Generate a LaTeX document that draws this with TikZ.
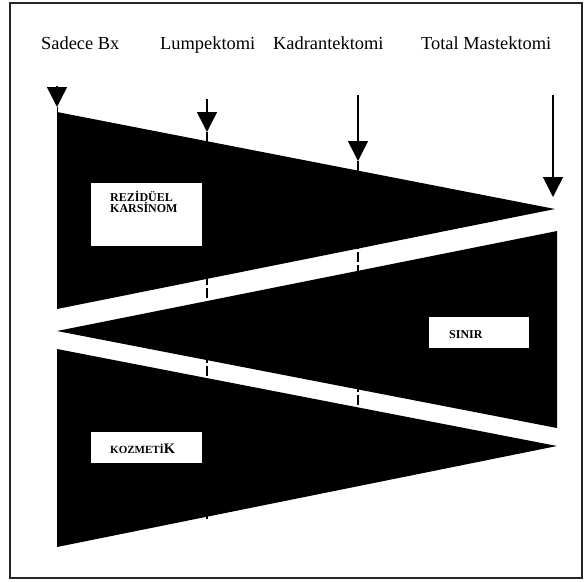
\documentclass[tikz,border=0pt]{standalone}
\usepackage{fontspec}
\setmainfont{Liberation Serif}
\usetikzlibrary{arrows.meta}
\begin{document}
\begin{tikzpicture}[x=1pt,y=-1pt,
  lbl/.style={anchor=base west,inner sep=0pt,font=\fontsize{18.4}{20}\selectfont},
  wbox/.style={fill=white,draw=none,inner sep=0pt,anchor=north west},
  btxt/.style={inner sep=0pt,font=\bfseries\fontsize{12}{13}\selectfont,align=left},
  wedge/.style={fill=black,draw=none},
  arr/.style={line width=1.5pt,-{Triangle[width=20pt,length=20pt]}},
  guide/.style={line width=1.5pt,dash pattern=on 10pt off 3pt}]
\useasboundingbox (0,0) rectangle (585,581);
\draw[line width=1.5pt,draw=black!85] (10,3) rectangle (582,578);
% labels
\node[lbl] (sb) at (41,49) {Sadece Bx};
\node[lbl] (lu) at (160,49) {Lumpektomi};
\node[lbl] (ka) at (273,49) {Kadrantektomi};
\node[lbl] (tm) at (421,49) {Total Mastektomi};
% wedges
\fill[wedge] (57,112) -- (555,209) -- (57,309) -- cycle;
\fill[wedge] (57,331) -- (557,231) -- (557,428) -- cycle;
\fill[wedge] (57,349) -- (557,446) -- (57,547) -- cycle;
% arrow coordinates
\coordinate (a1s) at (57,86);  \coordinate (a1t) at (57,107);
\coordinate (a1e) at (57,112);
\coordinate (a2s) at (207,99); \coordinate (a2t) at (207,132);
\coordinate (a3s) at (358,95); \coordinate (a3t) at (358,161);
\coordinate (a4s) at (553,95); \coordinate (a4t) at (553,197);
\coordinate (d2e) at (207,520); \coordinate (d3e) at (358,480);
\coordinate (a3e) at (358,170);
% dashed guides
\draw[guide] (a2t) -- (d2e);
\draw[guide] (a3t) -- (d3e);
\draw[line width=1.5pt] (a3t) -- (a3e);
\draw[line width=1pt] (a1t) -- (a1e);
% arrows
\draw[arr] (a1s) -- (a1t);
\draw[arr] (a2s) -- (a2t);
\draw[arr] (a3s) -- (a3t);
\draw[arr] (a4s) -- (a4t);
% boxes
\node[wbox,minimum width=111pt,minimum height=63pt] (rb) at (91,183) {};
\node[btxt,anchor=north west] (rt) at (110,191) {REZİDÜEL\\[-1.5pt]KARSİNOM};
\node[wbox,minimum width=100pt,minimum height=31pt] (sbx) at (429,317) {};
\node[btxt,anchor=base west] (st) at (449,338) {SINIR};
\node[wbox,minimum width=111pt,minimum height=31pt] (kb) at (91,432) {};
\node[inner sep=0pt,anchor=base west,font=\bfseries] (kt) at (110,453)
  {{\fontsize{11}{12}\selectfont KOZMETİ}{\fontsize{14.5}{15}\selectfont K}};
\end{tikzpicture}
\end{document}
